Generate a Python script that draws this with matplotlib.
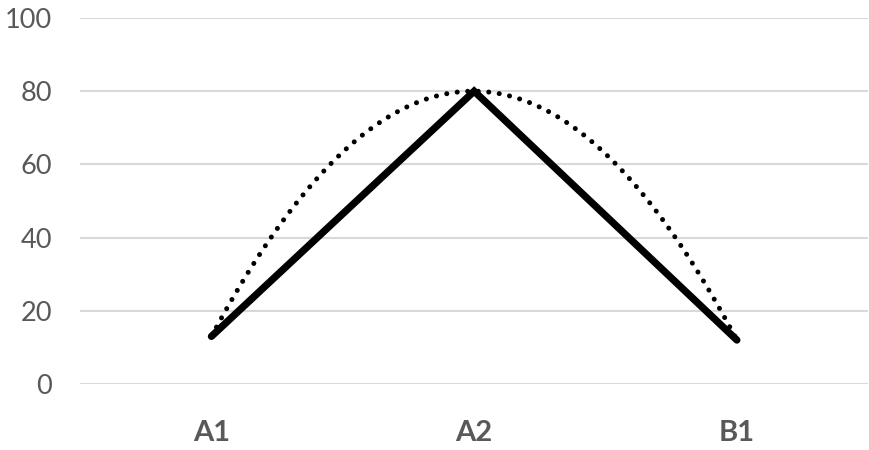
import matplotlib.pyplot as plt
import numpy as np

categories = ['A1', 'A2', 'B1']
values = [13, 80, 12]
y_ticks = [0, 20, 40, 60, 80, 100]

plt.rcParams['font.family'] = ['Lato', 'DejaVu Sans']

fig = plt.figure(figsize=(8.7, 4.5), dpi=100)
ax = fig.add_axes([0.092, 0.1467, 0.906, 0.8133])

x = np.arange(1, len(categories) + 1)

# polynomial (order 2) trendline, like the spreadsheet one
coef = np.polyfit(x, values, 2)
xs = np.linspace(x[0], x[-1], 200)
ax.plot(xs, np.polyval(coef, xs), color='black', lw=3.6,
        linestyle=(0, (0.01, 2.1)), dash_capstyle='round', zorder=3)

ax.plot(x, values, color='black', lw=5.2, solid_capstyle='round',
        solid_joinstyle='miter', zorder=4)

ax.set_xlim(0.5, 3.5)
ax.set_ylim(0, 100)
ax.set_yticks(y_ticks)
ax.set_xticks(x)
ax.set_xticklabels(categories, fontweight='bold')
ax.tick_params(axis='y', length=0, labelsize=19.5, colors='#595959', pad=20)
ax.tick_params(axis='x', length=0, labelsize=21, colors='#595959', pad=26)
ax.grid(axis='y', color='#d9d9d9', lw=1.5)
ax.set_axisbelow(True)
for s in ax.spines.values():
    s.set_visible(False)

fig.savefig('out.png', dpi=100)
